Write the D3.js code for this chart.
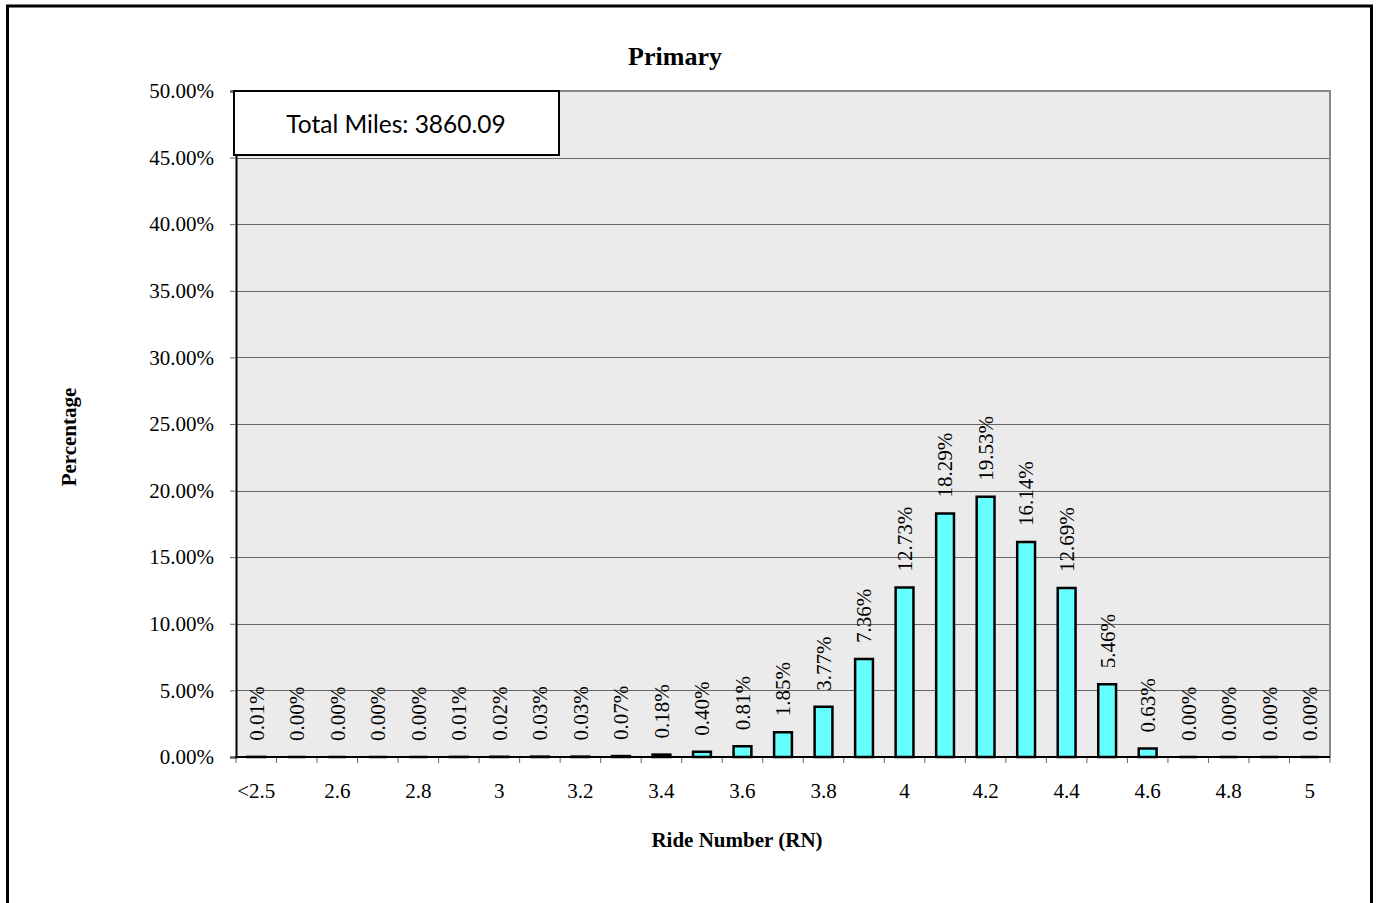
<!DOCTYPE html>
<html>
<head>
<meta charset="utf-8">
<script src="https://cdn.jsdelivr.net/npm/d3@7"></script>
<style>
  body { margin: 0; background: #fff; }
  svg { display: block; }
</style>
</head>
<body>
<div id="chart"></div>
<script>
// RN distribution - Primary

var categories = ["<2.5", "2.5", "2.6", "2.7", "2.8", "2.9", "3", "3.1", "3.2", "3.3", "3.4",
  "3.5", "3.6", "3.7", "3.8", "3.9", "4", "4.1", "4.2", "4.3", "4.4", "4.5", "4.6",
  "4.7", "4.8", "4.9", "5"];
var percents = [0.01, 0.00, 0.00, 0.00, 0.00, 0.01, 0.02, 0.03, 0.03, 0.07, 0.18,
  0.40, 0.81, 1.85, 3.77, 7.36, 12.73, 18.29, 19.53, 16.14, 12.69, 5.46, 0.63,
  0.00, 0.00, 0.00, 0.00];
var yTicks = [0, 5, 10, 15, 20, 25, 30, 35, 40, 45, 50];
var shownLabels = ["<2.5", "2.6", "2.8", "3", "3.2", "3.4", "3.6", "3.8", "4", "4.2", "4.4", "4.6", "4.8", "5"];
var totalMiles = "3860.09";

var width = 1377, height = 903;
var margin = {left: 236, right: 1330, top: 91, bottom: 757};
var serif = "'Liberation Serif', 'Times New Roman', serif";

var svg = d3.select("#chart").append("svg")
  .attr("width", width).attr("height", height);

// outer border
svg.append("rect")
  .attr("x", 7.5).attr("y", 6)
  .attr("width", 1364).attr("height", 910)
  .attr("fill", "#fff").attr("stroke", "#000").attr("stroke-width", 3);

var x = d3.scaleBand()
  .domain(categories)
  .range([margin.left, margin.right])
  .paddingInner(0.56).paddingOuter(0.28);

var xStep = d3.scaleBand().domain(categories).range([margin.left, margin.right]);

var y = d3.scaleLinear().domain([0, 50]).range([margin.bottom, margin.top]);

// plot background
svg.append("rect")
  .attr("x", margin.left).attr("y", margin.top)
  .attr("width", margin.right - margin.left).attr("height", margin.bottom - margin.top)
  .attr("fill", "#ebebeb");

// gridlines
svg.append("g")
  .selectAll("line")
  .data(yTicks.filter(function(d) { return d > 0 && d < 50; }))
  .join("line")
  .attr("x1", margin.left).attr("x2", margin.right)
  .attr("y1", function(d) { return Math.round(y(d)) + 0.5; })
  .attr("y2", function(d) { return Math.round(y(d)) + 0.5; })
  .attr("stroke", "#666").attr("stroke-width", 1);

// frame top / right
svg.append("path")
  .attr("d", "M" + margin.left + "," + margin.top + "H" + margin.right + "V" + margin.bottom)
  .attr("fill", "none").attr("stroke", "#888").attr("stroke-width", 2);

// y axis
var yAxis = d3.axisLeft(y)
  .tickValues(yTicks)
  .tickSize(6)
  .tickPadding(16)
  .tickFormat(function(d) { return d.toFixed(2) + "%"; });

var gy = svg.append("g")
  .attr("transform", "translate(" + margin.left + ",0)")
  .call(yAxis);
gy.select(".domain").attr("stroke", "#000").attr("stroke-width", 2);
gy.selectAll(".tick line").attr("stroke", "#666");
gy.selectAll(".tick text")
  .attr("font-family", serif).attr("font-size", 21).attr("fill", "#000");

// x axis - ticks at category boundaries
var bounds = categories.map(function(c) { return xStep(c); }).concat([margin.right]);
svg.append("g")
  .selectAll("line")
  .data(bounds)
  .join("line")
  .attr("x1", function(d) { return d; }).attr("x2", function(d) { return d; })
  .attr("y1", margin.bottom).attr("y2", margin.bottom + 6)
  .attr("stroke", "#666").attr("stroke-width", 1);

svg.append("line")
  .attr("x1", margin.left - 1).attr("x2", margin.right)
  .attr("y1", margin.bottom).attr("y2", margin.bottom)
  .attr("stroke", "#000").attr("stroke-width", 2);

svg.append("g")
  .selectAll("text")
  .data(shownLabels)
  .join("text")
  .attr("x", function(d) { return xStep(d) + xStep.bandwidth() / 2; })
  .attr("y", 798)
  .attr("text-anchor", "middle")
  .attr("font-family", serif).attr("font-size", 21)
  .text(function(d) { return d; });

// bars (as paths so zero-height bars still show their outline)
svg.append("g")
  .selectAll("path")
  .data(percents)
  .join("path")
  .attr("d", function(d, i) {
    var x0 = x(categories[i]), w = x.bandwidth();
    var top = y(d), h = y(0) - y(d);
    return "M" + x0 + "," + y(0) + "V" + top + "h" + w + "v" + h + "Z";
  })
  .attr("fill", "#66ffff")
  .attr("stroke", "#000").attr("stroke-width", 2.5);

// value labels
svg.append("g")
  .selectAll("text")
  .data(percents)
  .join("text")
  .attr("transform", function(d, i) {
    var cx = xStep(categories[i]) + xStep.bandwidth() / 2;
    return "translate(" + cx + "," + (y(d) - 16) + ") rotate(-90)";
  })
  .attr("dy", "0.35em")
  .attr("font-family", serif).attr("font-size", 21)
  .text(function(d) { return d.toFixed(2) + "%"; });

// total miles box
svg.append("rect")
  .attr("x", 234).attr("y", 91)
  .attr("width", 325).attr("height", 64)
  .attr("fill", "#fff").attr("stroke", "#000").attr("stroke-width", 2);
svg.append("text")
  .attr("x", 396).attr("y", 133)
  .attr("text-anchor", "middle")
  .attr("font-family", "Lato, 'Open Sans', sans-serif").attr("font-size", 24.5)
  .text("Total Miles: " + totalMiles);

// titles
svg.append("text")
  .attr("x", 675).attr("y", 65)
  .attr("text-anchor", "middle")
  .attr("font-family", serif).attr("font-size", 26).attr("font-weight", "bold")
  .text("Primary");

svg.append("text")
  .attr("x", 737).attr("y", 847)
  .attr("text-anchor", "middle")
  .attr("font-family", serif).attr("font-size", 21).attr("font-weight", "bold")
  .text("Ride Number (RN)");

svg.append("text")
  .attr("transform", "translate(76,437) rotate(-90)")
  .attr("text-anchor", "middle")
  .attr("font-family", serif).attr("font-size", 21).attr("font-weight", "bold")
  .text("Percentage");
</script>
</body>
</html>
